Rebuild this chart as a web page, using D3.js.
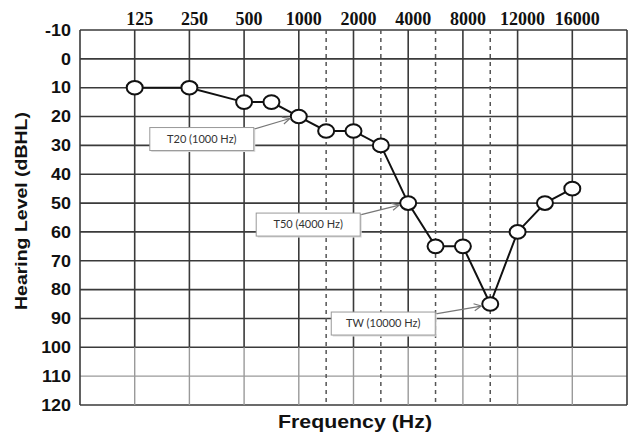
<!DOCTYPE html>
<html><head><meta charset="utf-8">
<script src="https://cdn.jsdelivr.net/npm/d3@7"></script>
<style>
html,body{margin:0;padding:0;background:#fff;}
svg{display:block;}
</style></head>
<body>
<script>
// ---- data ----
const freqs  = [125,250,500,750,1000,1500,2000,3000,4000,6000,8000,10000,12000,14000,16000];
const levels = [10,10,15,15,20,25,25,30,50,65,65,85,60,50,45];
const labelFreqs = [125,250,500,1000,2000,4000,8000,12000,16000];
const labelTexts = ["125","250","500","1000","2000","4000","8000","12000","16000"];
const dashedFreqs = [1500,3000,6000,10000];
const yTicks = [-10,0,10,20,30,40,50,60,70,80,90,100,110,120];
const annTexts  = ["T20 (1000 Hz)","T50 (4000 Hz)","TW (10000 Hz)"];
const annFreqs  = [1000,4000,10000];
const annLevels = [20,50,85];

// ---- layout ----
const W = 629, H = 433;
const L = 80, R = 627, T = 30, B = 405;
const svg = d3.select("body").append("svg").attr("width", W).attr("height", H);

const xDomain = [62.5,125,250,500,1000,2000,4000,8000,12000,16000,20000];
const x = d3.scaleLinear().domain(xDomain)
  .range(xDomain.map((d,i) => L + i*(R-L)/(xDomain.length-1)));
const y = d3.scaleLinear().domain([-10,120]).range([T,B]);

const dark = "#3a3a3a", light = "#9a9a9a";

// horizontal grid lines
svg.append("g").selectAll("line").data(yTicks).join("line")
  .attr("x1", L).attr("x2", R)
  .attr("y1", d => y(d)).attr("y2", d => y(d))
  .attr("stroke", d => d === 110 ? light : dark)
  .attr("stroke-width", d => d === 110 ? 1.3 : 1.6);

// vertical solid lines (upper dark, lower light)
const vSolid = labelFreqs;
const gv = svg.append("g");
gv.selectAll("line.u").data(vSolid).join("line").attr("class","u")
  .attr("x1", d => x(d)).attr("x2", d => x(d))
  .attr("y1", y(-10)).attr("y2", y(100))
  .attr("stroke", dark).attr("stroke-width", 1.6);
gv.selectAll("line.l").data(vSolid).join("line").attr("class","l")
  .attr("x1", d => x(d)).attr("x2", d => x(d))
  .attr("y1", y(100)).attr("y2", y(120))
  .attr("stroke", light).attr("stroke-width", 1.4);
// dashed
gv.selectAll("line.d").data(dashedFreqs).join("line").attr("class","d")
  .attr("x1", d => x(d)).attr("x2", d => x(d))
  .attr("y1", y(-10)).attr("y2", y(120))
  .attr("stroke", "#555").attr("stroke-width", 1.5)
  .attr("stroke-dasharray", "4,4");
// borders
svg.append("line").attr("x1", L).attr("x2", L).attr("y1", T).attr("y2", B)
  .attr("stroke", dark).attr("stroke-width", 1.6);
svg.append("line").attr("x1", R).attr("x2", R).attr("y1", T).attr("y2", B)
  .attr("stroke", dark).attr("stroke-width", 1.6);

// top frequency labels
svg.append("g").selectAll("text").data(labelFreqs).join("text")
  .attr("x", d => x(d) + 5).attr("y", 25)
  .attr("text-anchor", "middle")
  .attr("font-family", "'Liberation Serif','Times New Roman',serif")
  .attr("font-weight", "bold").attr("font-size", 18)
  .attr("fill", "#111")
  .text((d,i) => labelTexts[i]);

// y tick labels
svg.append("g").selectAll("text").data(yTicks).join("text")
  .attr("transform", d => `translate(71,${y(d)}) scale(1.12,1)`)
  .attr("dy", "0.36em")
  .attr("text-anchor", "end")
  .attr("font-family", "'Liberation Sans',Arial,sans-serif")
  .attr("font-weight", "bold").attr("font-size", 16)
  .attr("fill", "#111")
  .text(d => d);

// axis titles
svg.append("text")
  .attr("transform", "translate(27,211) rotate(-90)")
  .attr("text-anchor", "middle")
  .attr("font-family", "'Liberation Sans',Arial,sans-serif")
  .attr("font-weight", "bold").attr("font-size", 16)
  .attr("textLength", 198).attr("lengthAdjust", "spacingAndGlyphs")
  .attr("fill", "#111")
  .text("Hearing Level (dBHL)");
svg.append("text")
  .attr("x", 355).attr("y", 428)
  .attr("text-anchor", "middle")
  .attr("font-family", "'Liberation Sans',Arial,sans-serif")
  .attr("font-weight", "bold").attr("font-size", 18)
  .attr("textLength", 154).attr("lengthAdjust", "spacingAndGlyphs")
  .attr("fill", "#111")
  .text("Frequency (Hz)");

// line
const pts = freqs.map((f,i) => [x(f), y(levels[i])]);
svg.append("path")
  .attr("d", d3.line()(pts))
  .attr("fill", "none").attr("stroke", "#111").attr("stroke-width", 2);

// markers
svg.append("g").selectAll("ellipse").data(pts).join("ellipse")
  .attr("cx", d => d[0]).attr("cy", d => d[1])
  .attr("rx", 8).attr("ry", 6.8)
  .attr("fill", "#fff").attr("stroke", "#111").attr("stroke-width", 2);

// annotations
const defs = svg.append("defs");
defs.append("marker").attr("id","arr").attr("viewBox","0 0 10 10")
  .attr("refX", 9).attr("refY", 5).attr("markerWidth", 9).attr("markerHeight", 9)
  .attr("orient","auto").attr("markerUnits","userSpaceOnUse")
  .append("path").attr("d","M1,1 L9,5 L1,9").attr("fill","none")
  .attr("stroke","#777").attr("stroke-width",1.3);

const boxOff = [[-149,11],[-152,10],[-159,8]];
const boxW = 104, boxH = 23;
annFreqs.forEach((f,i) => {
  const px = x(f), py = y(annLevels[i]);
  const bx = px + boxOff[i][0], by = py + boxOff[i][1];
  svg.append("line")
    .attr("x1", bx + boxW - 1).attr("y1", by + 2)
    .attr("x2", px - 9).attr("y2", py + 2)
    .attr("stroke", "#777").attr("stroke-width", 1.2)
    .attr("marker-end", "url(#arr)");
  svg.append("rect").attr("x", bx + 1.5).attr("y", by + 1.5)
    .attr("width", boxW).attr("height", boxH).attr("fill", "#ddd");
  svg.append("rect").attr("x", bx).attr("y", by)
    .attr("width", boxW).attr("height", boxH)
    .attr("fill", "#fff").attr("stroke", "#999").attr("stroke-width", 1);
  svg.append("text").attr("x", bx + boxW/2).attr("y", by + boxH/2)
    .attr("dy", "0.35em").attr("text-anchor", "middle")
    .attr("font-family", "Lato,'Open Sans',sans-serif")
    .attr("font-size", 11).attr("fill", "#333")
    .text(annTexts[i]);
});
</script>
</body></html>
